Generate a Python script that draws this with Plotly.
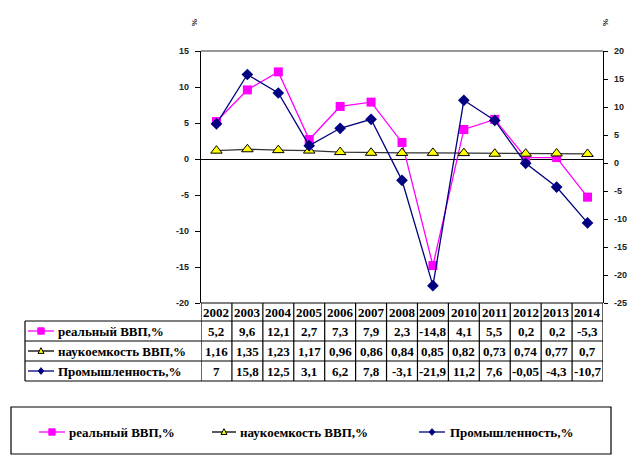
import plotly.graph_objects as go

years = [2002, 2003, 2004, 2005, 2006, 2007, 2008, 2009, 2010, 2011, 2012, 2013, 2014]
gdp = [5.2, 9.6, 12.1, 2.7, 7.3, 7.9, 2.3, -14.8, 4.1, 5.5, 0.2, 0.2, -5.3]
science = [1.16, 1.35, 1.23, 1.17, 0.96, 0.86, 0.84, 0.85, 0.82, 0.73, 0.74, 0.77, 0.7]
industry = [7, 15.8, 12.5, 3.1, 6.2, 7.8, -3.1, -21.9, 11.2, 7.6, -0.05, -4.3, -10.7]
series_names = ["реальный ВВП,%", "наукоемкость ВВП,%", "Промышленность,%"]
left_ticks = [-20, -15, -10, -5, 0, 5, 10, 15]
right_ticks = [-25, -20, -15, -10, -5, 0, 5, 10, 15, 20]

W, H = 627, 455
X0, X1 = 201, 603      # plot area in px
YT, YB = 51, 303


def px(x):
    return x / W


def py(y):
    return (H - y) / H


def fmt(v):
    return ("%g" % v).replace(".", ",")


MAG = "#FF00FF"
NAVY = "#000080"
BLK = "#000000"
tickfont = dict(family="Liberation Sans", size=9, color="#222222", weight="bold")
tabfont = dict(family="Times New Roman, Liberation Serif, serif", size=13, color="#000000", weight="bold")

fig = go.Figure()
fig.add_trace(go.Scatter(x=years, y=gdp, mode="lines+markers", name=series_names[0],
                         line=dict(color=MAG, width=1.3),
                         marker=dict(symbol="square", size=9, color=MAG), yaxis="y"))
fig.add_trace(go.Scatter(x=years, y=science, mode="lines+markers", name=series_names[1],
                         line=dict(color="#333333", width=1.3),
                         marker=dict(symbol="triangle-up", size=10, color="#FFFF00",
                                     line=dict(color=BLK, width=1)), yaxis="y"))
fig.add_trace(go.Scatter(x=years, y=industry, mode="lines+markers", name=series_names[2],
                         line=dict(color=NAVY, width=1.3),
                         marker=dict(symbol="diamond", size=9, color=NAVY), yaxis="y2"))

shapes = []
ann = []


def glyph_path(kind, cx, cy, r):
    if kind == "square":
        pts = [(cx - r, cy - r), (cx + r, cy - r), (cx + r, cy + r), (cx - r, cy + r)]
    elif kind == "triangle":
        pts = [(cx, cy - r * 1.1), (cx + r, cy + r * 0.8), (cx - r, cy + r * 0.8)]
    else:
        pts = [(cx, cy - r * 1.2), (cx + r, cy), (cx, cy + r * 1.2), (cx - r, cy)]
    return "M " + " L ".join("%f,%f" % (px(a), py(b)) for a, b in pts) + " Z"


glyphs = [
    dict(kind="square", r=3.2, fill=MAG, line=MAG, lc=MAG),
    dict(kind="triangle", r=3.0, fill="#FFFF00", line=BLK, lc=BLK),
    dict(kind="diamond", r=2.8, fill=NAVY, line=NAVY, lc=NAVY),
]


def add_glyph(g, a, b, y):
    shapes.append(dict(type="line", xref="paper", yref="paper", x0=px(a), x1=px(b), y0=py(y), y1=py(y),
                       line=dict(color=g["lc"], width=1.3)))
    shapes.append(dict(type="path", xref="paper", yref="paper", path=glyph_path(g["kind"], (a + b) / 2, y, g["r"]),
                       fillcolor=g["fill"], line=dict(color=g["line"], width=1)))


row_y = [331, 351, 371]
for g, ry in zip(glyphs, row_y):
    add_glyph(g, 28, 54, ry)
leg_x = [(39, 65, 67), (212, 236, 238), (419, 445, 448)]
for g, (a, b, t) in zip(glyphs, leg_x):
    add_glyph(g, a, b, 432)

# plot top border
shapes.append(dict(type="line", xref="paper", yref="paper", x0=px(X0), x1=px(X1), y0=py(YT), y1=py(YT),
                   line=dict(color="#999999", width=2)))

# table
rows_px = [303, 321, 341, 361, 381]
L = 25
lw = dict(color=BLK, width=1.2)
shapes.append(dict(type="line", xref="paper", yref="paper", x0=px(X0), x1=px(X1), y0=py(303), y1=py(303), line=lw))
for r in rows_px[1:]:
    shapes.append(dict(type="line", xref="paper", yref="paper", x0=px(L), x1=px(X1), y0=py(r), y1=py(r), line=lw))
shapes.append(dict(type="line", xref="paper", yref="paper", x0=px(L), x1=px(L), y0=py(321), y1=py(381), line=lw))
for i in range(len(years) + 1):
    xb = years[0] - 0.5 + i
    shapes.append(dict(type="line", xref="x", yref="paper", x0=xb, x1=xb, y0=py(303), y1=py(381), line=lw))

for yv in years:
    ann.append(dict(x=yv, y=py(312), xref="x", yref="paper", text=str(yv), showarrow=False,
                    font=tabfont, xanchor="center", yanchor="middle"))
for vals, ry in zip([gdp, science, industry], row_y):
    for yv, v in zip(years, vals):
        ann.append(dict(x=yv, y=py(ry), xref="x", yref="paper", text=fmt(v), showarrow=False,
                        font=tabfont, xanchor="center", yanchor="middle"))
for name, ry in zip(series_names, row_y):
    ann.append(dict(x=px(56), y=py(ry), xref="paper", yref="paper", text=name, showarrow=False,
                    font=tabfont, xanchor="left", yanchor="middle"))

# legend box
shapes.append(dict(type="rect", xref="paper", yref="paper", x0=px(11), x1=px(611), y0=py(407), y1=py(454),
                   line=dict(color=BLK, width=1.2)))
for (a, b, t), name in zip(leg_x, series_names):
    ann.append(dict(x=px(t), y=py(432), xref="paper", yref="paper", text=name, showarrow=False,
                    font=tabfont, xanchor="left", yanchor="middle"))

# % labels
for xx in (188, 612):
    ann.append(dict(x=px(xx), y=py(17), xref="paper", yref="paper", text="%", showarrow=False,
                    textangle=-90, font=dict(family="Liberation Sans", size=8, color="#222222", weight="bold")))

fig.update_layout(
    template="none",
    width=W, height=H, margin=dict(l=0, r=0, t=0, b=0, pad=0),
    paper_bgcolor="white", plot_bgcolor="rgba(0,0,0,0)", showlegend=False,
    xaxis=dict(domain=[px(X0), px(X1)], range=[years[0] - 0.5, years[-1] + 0.5], automargin=False,
               showticklabels=False, showgrid=False, zeroline=False, showline=False, ticks=""),
    yaxis=dict(domain=[py(YB), py(YT)], range=[-20, 15], automargin=False,
               tickvals=left_ticks, ticktext=[str(t) for t in left_ticks],
               showgrid=False, zeroline=True, zerolinecolor=BLK, zerolinewidth=1.2,
               showline=True, linecolor=BLK, linewidth=1.2, ticks="outside", ticklen=5,
               tickcolor=BLK, tickfont=tickfont, ticklabelstandoff=4),
    yaxis2=dict(overlaying="y", side="right", range=[-25, 20], automargin=False,
                tickvals=right_ticks, ticktext=[str(t) for t in right_ticks],
                showgrid=False, zeroline=False, showline=True, linecolor=BLK, linewidth=1.2,
                ticks="outside", ticklen=4, tickcolor=BLK, tickfont=tickfont, ticklabelstandoff=4),
    shapes=shapes, annotations=ann,
)

fig.write_html("out.html", config={"displayModeBar": False},
               post_script="document.body.style.margin='0px';document.body.style.overflow='hidden';")
